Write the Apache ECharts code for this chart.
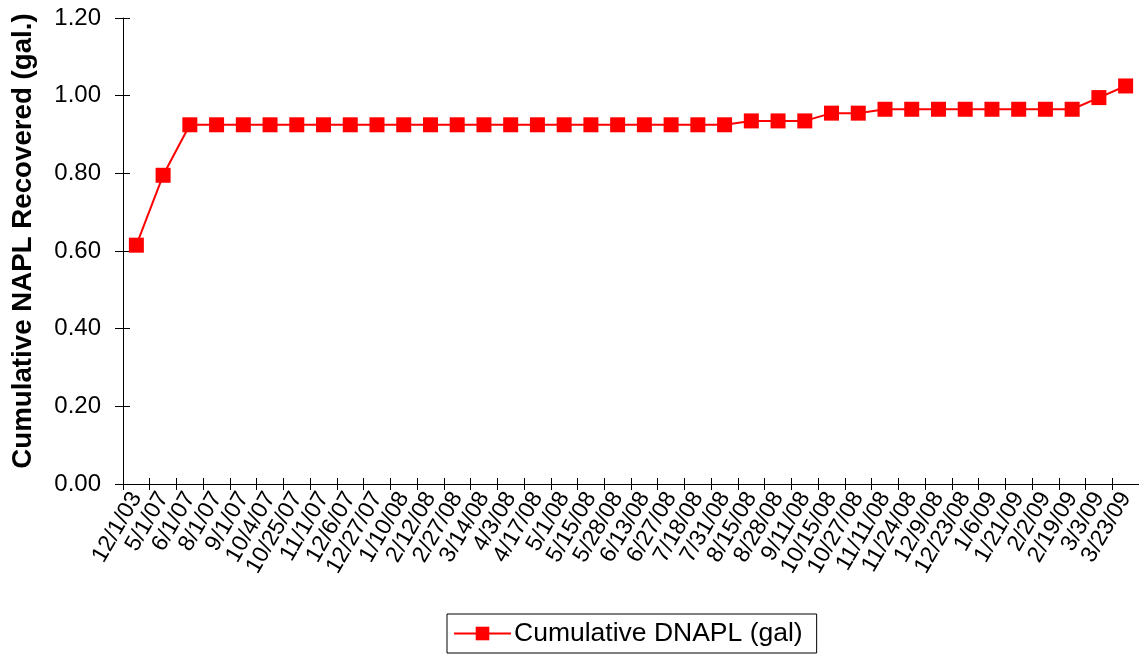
<!DOCTYPE html>
<html>
<head>
<meta charset="utf-8">
<script src="https://cdn.jsdelivr.net/npm/echarts@6/dist/echarts.min.js"></script>
<style>
  html, body { margin: 0; padding: 0; background: #fff; }
  #chart { width: 1139px; height: 656px; }
</style>
</head>
<body>
<div id="chart"></div>
<script>
// Sampling dates
const dates = [
  '12/1/03', '5/1/07', '6/1/07', '8/1/07', '9/1/07', '10/4/07', '10/25/07', '11/1/07',
  '12/6/07', '12/27/07', '1/10/08', '2/12/08', '2/27/08', '3/14/08', '4/3/08', '4/17/08',
  '5/1/08', '5/15/08', '5/28/08', '6/13/08', '6/27/08', '7/18/08', '7/31/08', '8/15/08',
  '8/28/08', '9/11/08', '10/15/08', '10/27/08', '11/11/08', '11/24/08', '12/9/08', '12/23/08',
  '1/6/09', '1/21/09', '2/2/09', '2/19/09', '3/3/09', '3/23/09'
];

// Cumulative DNAPL recovered (gal)
const cumulativeDnapl = [
  0.615, 0.795, 0.925, 0.925, 0.925, 0.925, 0.925, 0.925,
  0.925, 0.925, 0.925, 0.925, 0.925, 0.925, 0.925, 0.925,
  0.925, 0.925, 0.925, 0.925, 0.925, 0.925, 0.925, 0.935,
  0.935, 0.935, 0.955, 0.955, 0.965, 0.965, 0.965, 0.965,
  0.965, 0.965, 0.965, 0.965, 0.995, 1.025
];

const seriesName = 'Cumulative DNAPL (gal)';
const yTitle = 'Cumulative NAPL Recovered (gal.)';

const font = 'Liberation Sans, Arial, sans-serif';
const chart = echarts.init(document.getElementById('chart'), null, { renderer: 'canvas' });

chart.setOption({
  animation: false,
  backgroundColor: '#fff',
  textStyle: { fontFamily: font, color: '#000' },
  grid: { left: 123, right: 0, top: 18, bottom: 172, containLabel: false },
  graphic: [
    {
      type: 'text',
      x: 23,
      y: 241,
      rotation: Math.PI / 2,
      style: {
        text: yTitle,
        font: 'bold 27.7px Liberation Sans, Arial, sans-serif',
        fill: '#000',
        align: 'center',
        verticalAlign: 'middle'
      }
    }
  ],
  legend: {
    data: [seriesName],
    left: 447,
    top: 614,
    itemWidth: 57,
    itemHeight: 17,
    itemGap: 6,
    padding: [6, 14, 6, 6],
    borderColor: '#000',
    borderWidth: 1,
    borderRadius: 0,
    lineStyle: { width: 2, color: '#ff0000' },
    textStyle: { fontSize: 26.5, fontFamily: font, color: '#000', padding: [0, 0, 0, -2] }
  },
  xAxis: [
    {
      type: 'category',
      data: dates,
      boundaryGap: true,
      axisLine: { lineStyle: { color: '#000', width: 1 } },
      axisTick: { show: true, inside: false, length: 6, interval: 0, lineStyle: { color: '#000' } },
      axisLabel: {
        interval: 0,
        rotate: 60,
        fontSize: 23,
        color: '#000',
        fontFamily: font,
        margin: 10
      },
      splitLine: { show: false }
    },
    {
      type: 'category',
      data: dates,
      boundaryGap: true,
      position: 'bottom',
      axisLine: { show: false },
      axisTick: { show: true, inside: true, length: 6, interval: 0, lineStyle: { color: '#000' } },
      axisLabel: { show: false },
      splitLine: { show: false }
    }
  ],
  yAxis: [
    {
      type: 'value',
      min: 0,
      max: 1.2,
      interval: 0.2,
      axisLine: { show: true, lineStyle: { color: '#000', width: 1 } },
      axisTick: { show: true, inside: false, length: 8, lineStyle: { color: '#000' } },
      axisLabel: {
        fontSize: 24,
        color: '#000',
        fontFamily: font,
        margin: 22,
        formatter: v => v.toFixed(2)
      },
      splitLine: { show: false }
    },
    {
      type: 'value',
      min: 0,
      max: 1.2,
      interval: 0.2,
      position: 'left',
      axisLine: { show: false },
      axisTick: { show: true, inside: true, length: 7, lineStyle: { color: '#000' } },
      axisLabel: { show: false },
      splitLine: { show: false }
    }
  ],
  series: [
    {
      name: seriesName,
      type: 'line',
      data: cumulativeDnapl,
      symbol: 'rect',
      symbolSize: 15,
      color: '#ff0000',
      lineStyle: { color: '#ff0000', width: 2 },
      itemStyle: { color: '#ff0000' }
    }
  ]
});
</script>
</body>
</html>
